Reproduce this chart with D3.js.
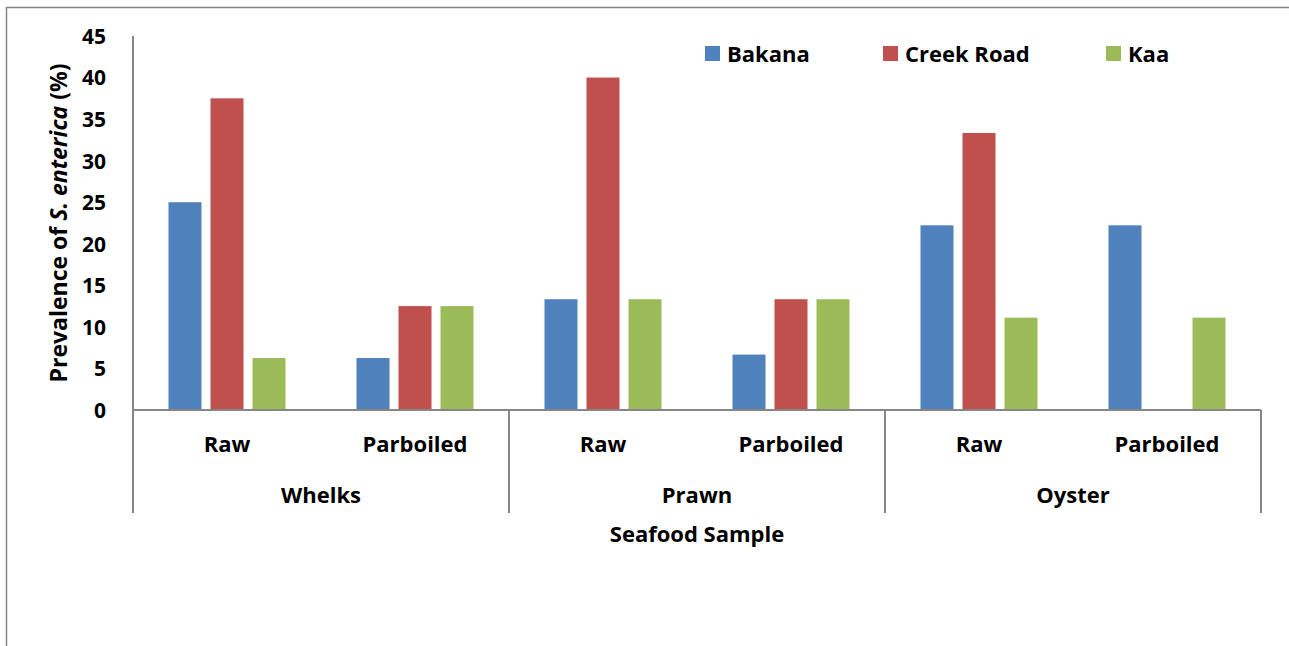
<!DOCTYPE html>
<html>
<head>
<meta charset="utf-8">
<script src="https://cdn.jsdelivr.net/npm/d3@7"></script>
<style>
  body { margin: 0; background: #fff; }
  svg text { font-family: "Open Sans", Lato, sans-serif; font-weight: bold; fill: #000; }
</style>
</head>
<body>
<div id="chart"></div>
<script>
// donnees
const groups = ["Whelks", "Prawn", "Oyster"];
const treatments = ["Raw", "Parboiled"];
const series = ["Bakana", "Creek Road", "Kaa"];
const colors = ["#4F81BD", "#C0504D", "#9BBB59"];
const bakana = [25, 6.25, 13.33, 6.67, 22.22, 22.22];
const creekRoad = [37.5, 12.5, 40, 13.33, 33.33, 0];
const kaa = [6.25, 12.5, 13.33, 13.33, 11.11, 11.11];
const yTicks = [0, 5, 10, 15, 20, 25, 30, 35, 40, 45];

const width = 1289, height = 646;
const mLeft = 133, mRight = 1261, mTop = 36, mBottom = 410;

// une categorie par couple groupe / traitement
const cats = [];
groups.forEach(g => treatments.forEach(t => cats.push(g + "|" + t)));
const values = [bakana, creekRoad, kaa];

const svg = d3.select('#chart').append('svg')
  .attr('width', width).attr('height', height);

// cadre
svg.append('path')
  .attr('d', `M6.5,${height} V7.5 H${width}`)
  .attr('fill', 'none').attr('stroke', '#868686').attr('stroke-width', 1.5);

const x0 = d3.scaleBand().domain(cats).range([mLeft, mRight]);
const x1 = d3.scaleBand().domain(series).range([0, x0.bandwidth()])
  .paddingInner(0.214).paddingOuter(0.845);
const y = d3.scaleLinear().domain([0, 45]).range([mBottom, mTop]);

// barres
series.forEach((s, si) => {
  svg.append('g').selectAll('rect')
    .data(cats.map((c, i) => ({ c, v: values[si][i] })))
    .enter().append('rect')
    .attr('x', d => x0(d.c) + x1(s))
    .attr('y', d => y(d.v))
    .attr('width', x1.bandwidth())
    .attr('height', d => y(0) - y(d.v))
    .attr('fill', colors[si]);
});

// axe y
const yAxis = svg.append('g').attr('transform', `translate(${mLeft},0)`)
  .call(d3.axisLeft(y).tickValues(yTicks).tickSize(0).tickPadding(27));
yAxis.select('.domain').attr('stroke', '#868686').attr('stroke-width', 2)
  .attr('d', `M0,${mTop}V513`);
yAxis.selectAll('text').attr('font-size', 21).attr('dy', '0.35em')
  .attr('font-family', '"Open Sans", sans-serif');

// ligne zero et separateurs
svg.append('line').attr('x1', mLeft).attr('x2', mRight)
  .attr('y1', y(0)).attr('y2', y(0))
  .attr('stroke', '#868686').attr('stroke-width', 2);
const seps = groups.map((g, i) => x0(g + "|Raw")).slice(1).concat([mRight]);
svg.selectAll('.sep').data(seps).enter().append('line')
  .attr('x1', d => d).attr('x2', d => d)
  .attr('y1', y(0)).attr('y2', 513)
  .attr('stroke', '#868686').attr('stroke-width', 2);

// etiquettes
svg.selectAll('.cat').data(cats).enter().append('text')
  .attr('x', d => x0(d) + x0.bandwidth() / 2)
  .attr('y', 452).attr('text-anchor', 'middle').attr('font-size', 22)
  .text(d => d.split('|')[1]);
svg.selectAll('.grp').data(groups).enter().append('text')
  .attr('x', g => x0(g + "|Raw") + x0.bandwidth())
  .attr('y', 503).attr('text-anchor', 'middle').attr('font-size', 22)
  .text(g => g);
svg.append('text').attr('x', (mLeft + mRight) / 2).attr('y', 542)
  .attr('text-anchor', 'middle').attr('font-size', 22).text('Seafood Sample');

// titre axe y
const yt = svg.append('text')
  .attr('transform', `translate(67,${(mTop + mBottom) / 2}) rotate(-90)`)
  .attr('text-anchor', 'middle').attr('font-size', 23);
yt.append('tspan').text('Prevalence of ');
yt.append('tspan').attr('font-style', 'italic').text('S. enterica');
yt.append('tspan').text(' (%)');

// legende
const legX = [705, 883, 1106];
const leg = svg.selectAll('.leg').data(series).enter().append('g')
  .attr('transform', (d, i) => `translate(${legX[i]},46)`);
leg.append('rect').attr('width', 15).attr('height', 15)
  .attr('fill', (d, i) => colors[i]);
leg.append('text').attr('x', 22).attr('y', 15.5).attr('font-size', 22).text(d => d);
</script>
</body>
</html>
